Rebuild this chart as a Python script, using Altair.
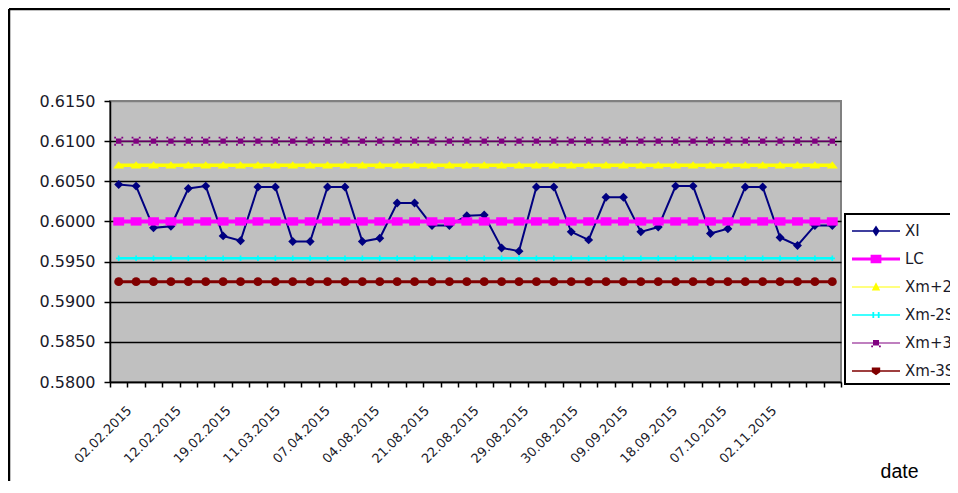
import json
import altair as alt
import pandas as pd

# ---------------- data ----------------
xi_values = [0.6046, 0.6044, 0.5992, 0.5994, 0.6041, 0.6044, 0.5982, 0.5976, 0.6043, 0.6043,
             0.5975, 0.5975, 0.6043, 0.6043, 0.5975, 0.5979, 0.6023, 0.6023, 0.5995, 0.5995,
             0.6007, 0.6008, 0.5967, 0.5963, 0.6043, 0.6043, 0.5987, 0.5977, 0.6030, 0.6030,
             0.5987, 0.5993, 0.6044, 0.6044, 0.5985, 0.5991, 0.6043, 0.6043, 0.5980, 0.5970,
             0.5995, 0.5995]
series_names = ["XI", "LC", "Xm+2S", "Xm-2S", "Xm+3S", "Xm-3S"]
limit_levels = [0.6000, 0.6070, 0.5954, 0.6100, 0.5925]   # LC, Xm+2S, Xm-2S, Xm+3S, Xm-3S
date_labels = ["02.02.2015", "12.02.2015", "19.02.2015", "11.03.2015", "07.04.2015",
               "04.08.2015", "21.08.2015", "22.08.2015", "29.08.2015", "30.08.2015",
               "09.09.2015", "18.09.2015", "07.10.2015", "02.11.2015"]
y_ticks = [0.580, 0.585, 0.590, 0.595, 0.600, 0.605, 0.610, 0.615]

# ---------------- tables ----------------
n = len(xi_values)
rows = [{"idx": i, "series": "XI", "value": v} for i, v in enumerate(xi_values)]
for name, level in zip(series_names[1:], limit_levels):
    rows += [{"idx": i, "series": name, "value": level} for i in range(n)]
df = pd.DataFrame(rows)
labels_df = pd.DataFrame({"label": date_labels})

# ---------------- styles ----------------
colors = ["#000080", "#FF00FF", "#FFFF00", "#00FFFF", "#800080", "#800000"]
line_widths = [2, 4, 3.5, 2.5, 1.2, 3]
marker_shapes = [
    "diamond",
    "M-1.3,-1H1.3V1H-1.3Z",
    "M0,-1L1.4,0.8H-1.4Z",
    "M-1,-0.3H1V0.3H-1Z M-0.3,-1H0.3V1H-0.3Z",
    "M-0.6,-0.6H0.6V0.6H-0.6Z M-1,-1H-0.6V-0.6H-1Z M0.6,-1H1V-0.6H0.6Z M-1,0.6H-0.6V1H-1Z M0.6,0.6H1V1H0.6Z",
    "circle",
]
marker_sizes = [80, 70, 64, 30, 81, 80]
legend_paths = [
    "M-2,-0.07H2V0.07H-2Z M0,-0.45L0.3,0L0,0.45L-0.3,0Z",
    "M-2,-0.13H2V0.13H-2Z M-0.45,-0.35H0.45V0.35H-0.45Z",
    "M-2,-0.04H2V0.04H-2Z M0,-0.4L0.35,0.3H-0.35Z",
    "M-2,-0.06H2V0.06H-2Z M-0.3,-0.25H-0.15V0.25H-0.3Z M0.15,-0.25H0.3V0.25H0.15Z",
    "M-2,-0.05H2V0.05H-2Z M-0.25,-0.25H0.25V0.2H-0.25Z M-0.4,0.2H-0.25V0.35H-0.4Z M0.25,0.2H0.4V0.35H0.25Z",
    "M-2,-0.06H2V0.06H-2Z M-0.35,-0.3H0.35V0.1L0,0.35L-0.35,0.1Z",
]

x_enc = alt.X(
    "idx:O",
    scale=alt.Scale(type="band", paddingInner=0, paddingOuter=0),
    axis=alt.Axis(
        orient="bottom",
        title="date", titleX=789, titleY=95, titleAlign="center", titleBaseline="alphabetic",
        titleFont="Liberation Sans", titleFontSize=19.5, titleFontWeight="normal", titleColor="black",
        labels=False,
        domainColor="black", domainWidth=1.5, tickColor="black", tickSize=5, tickWidth=1.5,
        tickBand="extent", grid=False,
    ),
)
y_enc = alt.Y(
    "value:Q",
    scale=alt.Scale(domain=[0.580, 0.615], nice=False, zero=False),
    axis=alt.Axis(
        title=None, values=y_ticks, format=".4f",
        labelFont="DejaVu Sans", labelFontSize=16, labelColor="#1a1a2a", labelPadding=9,
        domainColor="black", domainWidth=1.5, tickColor="black", tickSize=6, tickWidth=1.5,
        grid=True, gridWidth=1.5,
        gridColor={"condition": {"test": "datum.value >= 0.6149", "value": "#808080"}, "value": "black"},
    ),
)

frame_src = alt.Data(values=[{"f": 0}])
frame_left = alt.Chart(frame_src).mark_rule(color="black", strokeWidth=2.5).encode(
    x=alt.value(-101), y=alt.value(-92), y2=alt.value(3000))
frame_top = alt.Chart(frame_src).mark_rule(color="black", strokeWidth=2.5).encode(
    x=alt.value(-101), x2=alt.value(3000), y=alt.value(-92))

layers = [frame_left, frame_top]
for name, col, lw, shp, sz in zip(series_names, colors, line_widths, marker_shapes, marker_sizes):
    layers.append(
        alt.Chart(df).transform_filter(alt.datum.series == name).mark_line(
            color=col, strokeWidth=lw,
            point=alt.OverlayMarkDef(filled=True, fill=col, shape=shp, size=sz, opacity=1),
        ).encode(x=x_enc, y=y_enc)
    )

legend_layer = alt.Chart(df).mark_point(filled=True, opacity=0).encode(
    x=x_enc, y=y_enc,
    color=alt.Color("series:N", sort=series_names,
                    scale=alt.Scale(domain=series_names, range=colors),
                    legend=alt.Legend(title=None)),
    shape=alt.Shape("series:N", sort=series_names,
                    scale=alt.Scale(domain=series_names, range=legend_paths),
                    legend=alt.Legend(title=None)),
)
layers.append(legend_layer)
main = alt.layer(*layers)

# date labels: the picture's labels are spaced slightly tighter than the category ticks
label_layer = alt.Chart(labels_df).mark_point(opacity=0).encode(
    x=alt.X("label:N", sort=date_labels,
            scale=alt.Scale(type="point", domain=date_labels, range=[19, 664], padding=0),
            axis=alt.Axis(orient="bottom", title=None, domain=False, ticks=False, tickSize=0,
                          labelAngle=-45, labelAlign="right", labelBaseline="middle",
                          labelPadding=26, labelFont="DejaVu Sans", labelFontSize=13,
                          labelColor="#1a1a2a", labelOverlap=False, labelBound=False, grid=False))
)

chart = alt.layer(main, label_layer).resolve_scale(x="independent").properties(
    width=731, height=281,
    autosize=alt.AutoSizeParams(type="none"),
    padding={"left": 102, "top": 93, "right": 109, "bottom": 99},
    background="white",
).configure_view(
    fill="#C0C0C0", stroke="#808080", strokeWidth=2
).configure_legend(
    orient="none", legendX=735, legendY=113, direction="vertical",
    strokeColor="black", strokeWidth=2, fillColor="white", padding=5,
    symbolSize=576, symbolStrokeWidth=0, symbolOpacity=1, symbolOffset=14,
    labelOffset=17, labelFont="DejaVu Sans", labelFontSize=15, labelColor="#1a1a2a",
    rowPadding=8, labelLimit=300,
)

chart.save("out.html", embed_options={"renderer": "svg", "actions": False})
